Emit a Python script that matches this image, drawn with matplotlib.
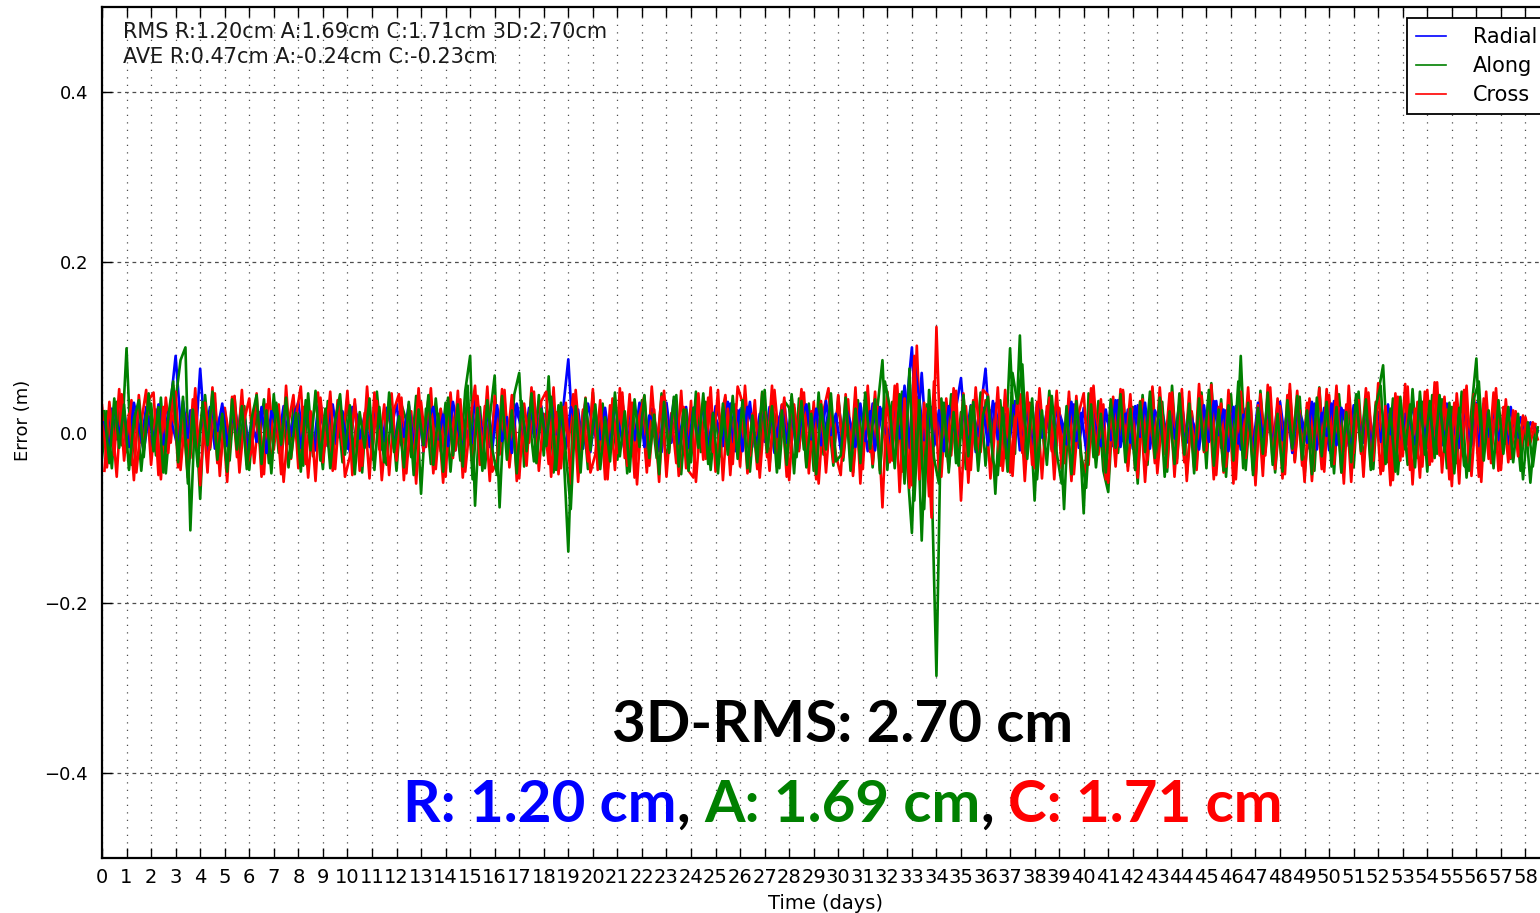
import numpy as np
import matplotlib
matplotlib.use("Agg")
import matplotlib.pyplot as plt

# orbit error samples (mm), arc 1 at 0, 0.2, 0.4 ... days, arc 2 shifted by 0.1 day
STEP_DAYS = 0.2

R_MM = [20, -15, 28, -8, 33, -20, 15, 25, -12, 30,
        -18, 22, 8, -22, 35, 90, 12, -10, 26, -16,
        75, -5, 30, -19, 18, 27, -14, 32, -9, 21,
        -21, 29, 4, 34, -17, 23, -7, 31, -13, 16,
        36, -11, 24, -24, 28, 10, -16, 33, -6, 25,
        -19, 30, 14, -13, 37, -8, 22, -20, 29, 6,
        34, -15, 19, -23, 31, 12, -10, 35, -18, 27,
        -4, 32, -21, 25, 9, -14, 38, -12, 20, -17,
        30, -9, 26, -22, 33, 15, -13, 29, -5, 36,
        -20, 24, 11, -16, 31, 86, -11, 27, -19, 34,
        7, -14, 32, -21, 25, -6, 37, -15, 21, -10,
        33, -18, 28, 3, -23, 35, -12, 26, -8, 30,
        -16, 38, -9, 23, -20, 31, 13, -14, 34, -22,
        27, -5, 36, -17, 22, -11, 30, -24, 18, 33,
        -13, 29, -19, 35, 8, -15, 32, -7, 25, -21,
        37, -10, 24, -18, 31, 14, -22, 34, -6, 28,
        -17, 33, 20, -12, 38, 100, -9, 70, -20, 30,
        -14, 35, 16, -19, 29, 64, -8, 32, -23, 26,
        75, -11, 34, -16, 22, -6, 37, -21, 28, 10,
        -15, 31, -9, 36, -20, 24, 5, -13, 33, -18,
        29, -7, 35, -22, 19, 12, -16, 38, -10, 27,
        -19, 32, 8, -14, 36, -21, 25, -5, 30, -17,
        34, -12, 21, -24, 33, 15, -9, 37, -18, 26,
        -6, 31, -20, 28, 11, -15, 35, -11, 23, -22,
        36, -8, 30, -17, 25, 4, -19, 34, -13, 29,
        -21, 37, -10, 26, -16, 32, 9, -12, 35, -20,
        24, -7, 33, -23, 28, 13, -14, 36, -9, 31,
        -18, 30, 6, -15, 34, -22, 27, -4, 32, -16,
        35, -11, 29, -19, 23, 8, -13, 30, -6, 18,
        -8, 12, 5]
R_MM_ARC2 = [12, -20, 31, -3, 26, -17, 35, 8, -22, 19,
             -9, 33, -14, 24, 5, -19, 37, -6, 29, -12,
             18, -23, 27, 2, 34, -16, 21, -8, 36, -20,
             14, -11, 30, -24, 25, 7, -15, 32, -4, 28,
             -18, 22, 10, -21, 35, -9, 26, -13, 31, 3,
             -23, 34, -7, 20, -17, 29, 11, -10, 37, -19,
             24, -5, 33, -14, 27, -22, 16, 30, -8, 21,
             -16, 36, 6, -20, 28, -12, 35, -3, 23, -21,
             32, -10, 18, -24, 34, 9, -17, 26, -6, 31,
             -14, 37, -2, 22, -19, 30, 13, -11, 36, -23,
             25, -8, 29, -15, 33, 4, -21, 27, -9, 35,
             -17, 20, 12, -22, 31, -6, 38, -13, 24, -18,
             29, -4, 34, -20, 23, 10, -16, 36, -11, 26,
             -22, 30, 7, -14, 35, -19, 21, -5, 32, -12,
             27, -24, 16, 33, -8, 28, -15, 37, -3, 22,
             -20, 31, 11, -17, 34, -10, 25, -21, 30, 5,
             -13, 36, -7, 55, -18, 80, 40, -9, 33, -16,
             26, -22, 31, 6, -12, 35, -19, 24, -4, 29,
             -15, 37, -8, 21, -23, 32, 14, -11, 28, -18,
             34, -6, 25, -20, 30, 9, -14, 36, -10, 23,
             -21, 33, 4, -16, 27, -9, 38, -17, 22, -12,
             31, -5, 35, -19, 26, 12, -23, 29, -7, 34,
             -14, 24, 8, -20, 32, -11, 37, -3, 27, -22,
             30, -13, 21, 15, -18, 35, -6, 28, -16, 33,
             -9, 26, -24, 31, 7, -12, 36, -20, 23, -4,
             34, -15, 29, 10, -21, 32, -8, 37, -17, 25,
             -11, 30, -2, 35, -19, 22, 13, -14, 33, -7,
             28, -23, 36, -10, 24, 5, -18, 31, -12, 26,
             -16, 34, -5, 27, -9, 20, -13, 15, -6, 10,
             -4, 8, 2]

A_MM = [-30, 25, -42, 36, -15, 99, -38, 28, -45, 20,
        34, -27, 41, -48, 22, 38, 85, 100, -115, 30,
        -78, 44, -20, 35, -40, 18, -33, 42, -26, 31,
        -44, 27, -12, 39, -36, 45, -24, 16, -41, 33,
        21, -39, 46, -28, 12, -43, 37, -19, 30, -35,
        42, -25, 18, -47, 36, -31, 48, -16, -38, 26,
        -45, 33, 14, -29, 43, -72, 28, -37, 40, -22,
        35, -46, 24, -33, 49, 90, -86, 30, -42, 17,
        67, -88, 38, -24, 45, 70, -40, 21, -34, 44,
        -27, 66, -47, 32, -18, -140, 39, -36, 25, -43,
        47, -21, 34, -45, 16, -32, 42, -48, 29, -14,
        38, -41, 23, -30, 46, -37, 12, 44, -49, 27,
        -35, 48, -23, 36, -44, 19, -28, 41, -39, 33,
        -17, 45, -46, 26, -31, 50, -38, 22, -42, 37,
        29, -48, 40, -20, 34, -45, 47, -26, 18, -39,
        43, -33, 25, -47, 38, -22, 46, -41, 30, 85,
        -44, 36, -19, 48, -35, -118, 42, -127, 33, -50,
        -286, 40, -28, 45, -36, 24, -43, 31, -20, 47,
        -39, 26, -72, 38, -30, 99, -25, 114, -44, 35,
        -80, 42, -21, 49, -37, 28, -90, 40, -33, 18,
        -95, 46, -29, 37, -45, -70, 33, -24, 48, -40,
        30, -60, 44, -38, 52, -27, 36, -46, 55, -31,
        41, -49, 24, -35, 47, -42, 58, -28, 39, -52,
        45, -36, 90, -44, 31, -55, 49, -23, 40, -47,
        26, -39, 50, -33, 42, -50, 19, -45, 53, -29,
        37, -48, 45, -22, 34, -41, 48, -37, 28, -43,
        46, 79, -35, 40, -49, 23, -38, 51, -30, 36,
        -46, 44, -25, 39, -42, 30, -36, 48, -53, 27,
        87, -40, 35, -28, 43, -37, 24, -31, 20, -45,
        15, -59, 8]
A_MM_ARC2 = [25, -36, 40, -18, 33, -44, 15, 38, -29, 46,
             -22, 30, -47, 19, 60, -35, 42, -60, 27, -40,
             36, -15, 48, -32, 22, -46, 39, -20, 31, -43,
             17, 44, -37, 26, -48, 35, -14, 41, -30, 23,
             -46, 38, -21, 49, -33, 28, -42, 14, 45, -26,
             32, -49, 24, -18, 40, -44, 30, -35, 47, -23,
             19, -41, 36, -50, 27, -15, 44, -38, 22, -46,
             41, -27, 33, -40, 55, -55, 29, -45, 38, -19,
             -50, 43, -32, 26, -48, 37, -22, 46, -36, 28,
             -16, 42, -44, 35, -25, -90, 31, -47, 40, -21,
             33, -43, 18, -34, 47, -28, 25, -46, 39, -17,
             44, -30, 21, -49, 36, -24, 42, -40, 27, -45,
             29, -18, 46, -37, 23, -48, 34, -26, 43, -31,
             38, -42, 20, -35, 48, -23, 31, -47, 26, -38,
             45, -29, 37, -41, 22, -49, 33, -20, 46, -34,
             -27, 41, -45, 28, -36, 47, -19, 39, -48, 60,
             30, -42, 45, -60, 75, -80, 38, -90, 50, -30,
             -60, 35, -47, 24, -39, 44, -28, 36, -45, 21,
             42, -33, -50, 29, -46, 70, 34, 80, -31, 40,
             -55, 26, -38, 43, -24, -60, 31, -49, 37, -27,
             -65, 33, -41, 22, -47, 39, -18, 45, -35, 28,
             -44, 36, -23, 48, -30, 41, -52, 25, -37, 46,
             -26, 34, -48, 40, -21, 50, -39, 27, -45, 32,
             -33, 60, -42, 35, -50, 29, -25, 47, -38, 22,
             -46, 38, -19, 43, -32, 26, -49, 41, -28, 36,
             -40, 30, -47, 24, -35, 45, -22, 39, -44, 31,
             55, -37, 28, -46, 42, -20, 33, -41, 48, -26,
             37, -30, 44, -23, 35, -48, 29, -39, -45, 40,
             60, -33, 26, -42, 38, -25, 30, -35, 22, -55,
             12, -40, 6]

C_MM = [32, -41, 18, -52, 45, -23, 38, -47, 12, 50,
        -38, 27, -55, 41, -12, 48, -44, 22, -30, 52,
        -62, 35, -18, 46, -51, 29, -8, 43, -47, 15,
        40, -36, 24, -49, 51, -20, 33, -58, 11, 44,
        -42, 30, -53, 19, 47, -35, 26, -45, 38, -15,
        49, -50, 21, -39, 54, -28, 37, -56, 9, 46,
        -33, 41, -48, 25, -60, 36, -17, 52, -43, 28,
        -52, 47, -21, 39, -46, 14, 55, -38, 31, -57,
        43, -26, 50, -41, 18, -54, 34, -12, 48, -45,
        22, -37, 53, -49, 30, -16, 45, -58, 27, -34,
        51, -44, 16, -55, 40, -24, 47, -39, 35, -61,
        29, -47, 54, -19, 42, -52, 23, -36, 49, -42,
        37, -58, 20, -31, 53, -46, 13, 44, -50, 32,
        -40, 55, -27, 38, -53, 24, -45, 50, -14, 41,
        -56, 33, -22, 47, -48, 36, -60, 26, 52, -35,
        44, -29, 39, -51, 21, -43, 55, -37, 30, -88,
        48, -33, 57, -46, 35, -62, 102, -41, 28, -100,
        124, -52, 40, -27, 49, -80, 31, -44, 53, -23,
        38, -54, 26, -39, 50, -47, 17, 45, -57, 34,
        -42, 52, -18, 41, -55, 29, -36, 48, -49, 23,
        46, -38, 55, -26, 33, -59, 42, -15, 50, -45,
        27, -53, 39, -32, 54, -48, 19, -41, 47, -36,
        51, -57, 25, -44, 43, -21, 56, -50, 34, -40,
        22, -55, 48, -30, 37, -62, 45, -27, 53, -43,
        31, -49, 57, -35, 26, -58, 40, -19, 52, -46,
        44, -37, 29, -60, 55, -24, 38, -52, 47, -33,
        58, -45, 21, -56, 42, -28, 54, -61, 36, -40,
        50, -34, 59, -47, 27, -63, 46, -22, 55, -51,
        33, -58, 48, -36, 52, -44, 39, -30, 25, -20,
        18, -12, 10]
C_MM_ARC2 = [-45, 36, -27, 51, -33, 22, -56, 44, -19, 38,
             47, -50, 30, -24, 55, -41, 17, -53, 39, -12,
             28, -47, 53, -36, 20, -58, 42, -29, 50, -38,
             -21, 46, -52, 33, -40, 26, -49, 55, -31, 18,
             54, -37, 25, -57, 41, -16, 48, -43, 35, -52,
             -28, 39, -45, 23, -54, 47, -20, 33, -50, 27,
             45, -56, 31, -37, 52, -22, 40, -48, 19, -59,
             36, -30, 49, -53, 26, -41, 43, -25, 54, -46,
             -34, 51, -18, 44, -57, 30, -39, 53, -27, 37,
             48, -52, 24, -42, 35, -60, 50, -21, 41, -47,
             -26, 38, -55, 32, -44, 52, -30, 45, -53, 20,
             43, -39, 27, -58, 49, -24, 36, -51, 30, -45,
             -53, 46, -32, 41, -23, 50, -56, 28, -37, 54,
             35, -48, 22, -43, 47, -29, 55, -40, 33, -52,
             42, -21, 51, -38, 25, -55, 37, -47, 30, -26,
             -50, 45, -34, 53, -60, 39, -23, 48, -45, 27,
             -35, 55, -70, 40, -65, 90, -55, 35, -75, 60,
             -48, 30, -42, 52, -27, 46, -59, 38, -33, 50,
             44, -29, 53, -45, 28, -51, 40, -24, 47, -38,
             36, -54, 31, -22, 49, -42, 26, -57, 43, -30,
             -47, 52, -26, 39, -55, 33, -40, 51, -20, 45,
             -44, 37, -58, 28, -36, 53, -25, 46, -52, 31,
             -35, 48, -41, 57, -23, 42, -55, 30, -47, 50,
             -60, 38, -28, 53, -45, 32, -51, 56, -34, 40,
             -54, 44, -21, 49, -39, 35, -57, 27, -43, 51,
             -30, 55, -47, 33, -58, 41, -25, 52, -40, 36,
             -49, 31, -62, 46, -33, 57, -44, 28, -53, 48,
             -38, 59, -27, 42, -55, 35, -60, 50, -36, 45,
             -52, 40, -31, 47, -45, 30, -35, 26, -28, 20,
             -15, 12, -8]

SERIES = ["Radial", "Along", "Cross"]
RMS_CM = [1.20, 1.69, 1.71]
AVE_CM = [0.47, -0.24, -0.23]
RMS_3D_CM = 2.70
DAY_TICKS = list(range(0, 59))
Y_TICKS = [-0.4, -0.2, 0.0, 0.2, 0.4]

W, H = 1540, 913
fig = plt.figure(figsize=(W / 100, H / 100), dpi=100)
fig.patch.set_facecolor("white")
ax = fig.add_axes([102 / W, 55 / H, 1448 / W, 851 / H])

colors = ["b", "g", "r"]

# each arc drawn on its own; arc 2 goes R, C, A so green sits on top there
t1 = np.arange(len(R_MM)) * STEP_DAYS
t2 = t1 + STEP_DAYS / 2
for vals, name, c in zip([R_MM, A_MM, C_MM], SERIES, colors):
    ax.plot(t1, np.array(vals) / 1000.0, color=c, lw=1.9, label=name)
for vals, c in zip([R_MM_ARC2, C_MM_ARC2, A_MM_ARC2], ["b", "r", "g"]):
    ax.plot(t2, np.array(vals) / 1000.0, color=c, lw=1.9)

ax.set_xlim(0, 59)
ax.set_ylim(-0.5, 0.5)
ax.set_xticks(DAY_TICKS)
ax.set_xticklabels([str(d) for d in DAY_TICKS], fontsize=14)
ax.set_yticks(Y_TICKS)
ax.set_yticklabels(["\u22120.4", "\u22120.2", "0.0", "0.2", "0.4"], fontsize=13)
ax.tick_params(direction="in", top=True, right=True, length=7, width=1, color="k")
ax.tick_params(axis="x", pad=7)
ax.tick_params(axis="y", pad=10)
for s in ax.spines.values():
    s.set_linewidth(1.6)
    s.set_color("k")

ax.grid(True, axis="x", linestyle=(0, (1, 5)), color="0.3", lw=0.9)
ax.grid(True, axis="y", linestyle=(0, (3, 3)), color="0.3", lw=0.9)

leg = ax.legend(loc="upper left", bbox_to_anchor=((1407 - 102) / 1448, (858 - 18) / 851),
                borderaxespad=0, fontsize=15, handlelength=1.4, handletextpad=1.3,
                labelspacing=0.42, borderpad=0.45, fancybox=False, framealpha=1)
leg.get_frame().set_edgecolor("k")
leg.get_frame().set_linewidth(1.3)
for ln in leg.get_lines():
    ln.set_linewidth(1.2)

# stats text at top left
fig.text(123 / W, 1 - 32 / H,
         "RMS R:%.2fcm A:%.2fcm C:%.2fcm 3D:%.2fcm" % (RMS_CM[0], RMS_CM[1], RMS_CM[2], RMS_3D_CM),
         fontsize=15, ha="left", va="center", color="0.1")
fig.text(123 / W, 1 - 57 / H,
         "AVE R:%.2fcm A:%.2fcm C:%.2fcm" % (AVE_CM[0], AVE_CM[1], AVE_CM[2]),
         fontsize=15, ha="left", va="center", color="0.1")

fig.text(23 / W, 1 - 420 / H, "Error (m)", rotation=90, ha="center", va="center", fontsize=13)
fig.text(826 / W, 1 - 903 / H, "Time (days)", ha="center", va="center", fontsize=14)

# big annotation
big = dict(fontsize=42, fontweight="bold", family=["Lato", "DejaVu Sans"])
fig.text(843 / W, 1 - 725 / H, "3D-RMS: %.2f cm" % RMS_3D_CM, ha="center", va="center",
         color="k", **big)

renderer = fig.canvas.get_renderer()


def text_w(s):
    tt = fig.text(0, 0, s, **big)
    w = tt.get_window_extent(renderer).width
    tt.remove()
    return w


parts = [("R: %.2f cm" % RMS_CM[0], "b"), (",", "k"), (" A: %.2f cm" % RMS_CM[1], "g"),
         (",", "k"), (" C: %.2f cm" % RMS_CM[2], "r")]
full = "".join(p[0] for p in parts)
total = text_w(full)
x0 = 843 - total / 2
prefix = ""
for s, c in parts:
    first = s.strip()[0]
    lead = s[:len(s) - len(s.lstrip())]
    off = text_w(prefix + lead + first) - text_w(first) if prefix or lead else 0
    fig.text((x0 + off) / W, 1 - 805 / H, s.lstrip(), ha="left", va="center", color=c, **big)
    prefix += s

fig.savefig("out.png", dpi=100)
